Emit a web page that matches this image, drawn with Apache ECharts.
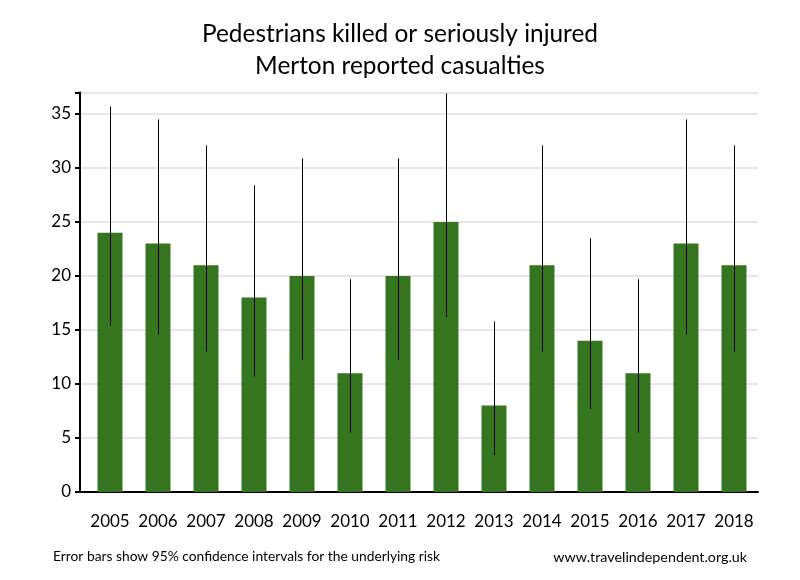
<!DOCTYPE html>
<html><head><meta charset="utf-8">
<script src="https://cdn.jsdelivr.net/npm/echarts@6/dist/echarts.min.js"></script>
<style>html,body{margin:0;padding:0;background:#fff}#c{width:800px;height:580px}</style>
</head><body><div id="c"></div>
<script>
const years = ['2005','2006','2007','2008','2009','2010','2011','2012','2013','2014','2015','2016','2017','2018'];
const casualties = [24,23,21,18,20,11,20,25,8,21,14,11,23,21];
const ciLow  = [15.4,14.6,13.0,10.7,12.2,5.5,12.2,16.2,3.4,13.0,7.7,5.5,14.6,13.0];
const ciHigh = [35.7,34.5,32.1,28.4,30.9,19.7,30.9,36.9,15.8,32.1,23.5,19.7,34.5,32.1];
const yTicks = [0,5,10,15,20,25,30,35];

const FONT = 'Lato';
const chart = echarts.init(document.getElementById('c'), null, {renderer:'canvas'});
const errData = years.map((y,i)=>[i, ciLow[i], ciHigh[i]]);
chart.setOption({
  animation:false,
  backgroundColor:'#fff',
  title:[
    {text:'Pedestrians killed or seriously injured\nMerton reported casualties', left:'center', top:13,
     textStyle:{fontFamily:FONT,fontSize:24.4,fontWeight:'normal',color:'#000',lineHeight:32}},
    {text:'Error bars show 95% confidence intervals for the underlying risk', left:48, top:545,
     textStyle:{fontFamily:FONT,fontSize:13.8,fontWeight:'normal',color:'#000'}},
    {text:'www.travelindependent.org.uk', right:48, top:545,
     textStyle:{fontFamily:FONT,fontSize:14.3,fontWeight:'normal',color:'#000'}}
  ],
  grid:[
    {left:80, width:678, top:92.4, bottom:88},
    {left:86, width:672, top:92.4, bottom:88}
  ],
  xAxis:[
    {gridIndex:0, type:'category', data:['a'], axisLine:{lineStyle:{color:'#000',width:2}}, axisTick:{show:false}, axisLabel:{show:false}},
    {gridIndex:1, type:'category', data:years, axisLine:{show:false}, axisTick:{show:false},
     axisLabel:{fontFamily:FONT,fontSize:17,color:'#000',margin:21,interval:0}}
  ],
  yAxis:[
    {gridIndex:0, type:'value', min:0, max:37, interval:5,
     axisLine:{show:true,lineStyle:{color:'#000',width:2}},
     axisTick:{show:true,length:5,lineStyle:{color:'#000',width:2}},
     axisLabel:{fontFamily:FONT,fontSize:17,color:'#000',margin:9,
       formatter:v=>yTicks.includes(v)?String(v):''},
     splitLine:{show:true,lineStyle:{color:'#e6e6e6',width:2}}},
    {gridIndex:1, type:'value', min:0, max:37, show:false, splitLine:{show:false}}
  ],
  series:[
    {type:'bar', xAxisIndex:1, yAxisIndex:1, data:casualties, barWidth:25, itemStyle:{color:'#367621'}},
    {type:'custom', xAxisIndex:1, yAxisIndex:1, data:errData, z:5,
     renderItem:(params, api)=>{
       const lo = api.coord([api.value(0), api.value(1)]);
       const hi = api.coord([api.value(0), api.value(2)]);
       const x = Math.round(lo[0])+0.5;
       return {type:'line', shape:{x1:x,y1:lo[1],x2:x,y2:hi[1]}, style:{stroke:'#000',lineWidth:1}};
     }}
  ]
});
</script></body></html>
